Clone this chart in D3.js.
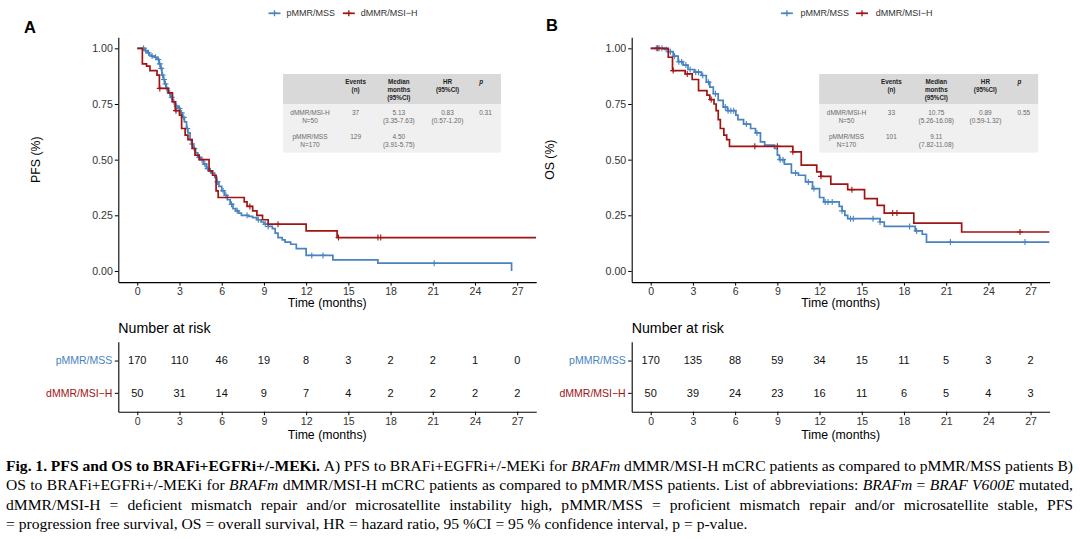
<!DOCTYPE html>
<html><head><meta charset="utf-8">
<script src="https://cdn.jsdelivr.net/npm/d3@7"></script>
<style>body{margin:0;background:#fff}svg{display:block}</style>
</head><body><svg id="c" width="1080" height="539"></svg>
<script>
// ---------------- DATA ----------------
const months = [0,3,6,9,12,15,18,21,24,27];
const yTicks = [0,0.25,0.5,0.75,1];
const groups = ["pMMR/MSS","dMMR/MSI\u2212H"];

// PFS – pMMR/MSS
const pfsP_t = [0,0.55,0.7,0.85,1.0,1.2,1.4,1.55,1.65,1.75,1.85,1.95,2.05,2.2,2.35,2.5,2.7,2.9,3.05,3.2,3.35,3.5,3.6,3.75,3.85,4.0,4.15,4.3,4.5,4.7,4.9,5.1,5.3,5.5,5.65,5.8,6.0,6.2,6.4,6.6,6.8,7.0,7.2,7.4,7.9,8.2,8.5,8.8,9.0,9.3,9.6,9.8,10.0,10.3,10.5,10.9,11.3,12.0,13.9,17.1,26.6];
const pfsP_s = [1,0.99,0.98,0.97,0.965,0.96,0.95,0.93,0.91,0.88,0.86,0.84,0.82,0.80,0.78,0.76,0.74,0.73,0.71,0.69,0.67,0.64,0.62,0.59,0.57,0.55,0.53,0.51,0.50,0.48,0.46,0.45,0.44,0.42,0.40,0.38,0.36,0.34,0.32,0.30,0.28,0.27,0.26,0.25,0.245,0.24,0.23,0.22,0.21,0.20,0.19,0.17,0.15,0.14,0.13,0.12,0.10,0.07,0.05,0.035,0.0];
const pfsP_end = 26.6;
const pfsP_cens = [0.45,0.6,0.8,1.05,1.3,1.5,1.6,1.7,1.8,1.9,2.0,2.1,2.3,2.45,2.6,2.8,3.0,3.15,3.3,3.55,3.9,4.05,4.4,4.6,4.8,5.0,5.2,5.7,6.1,6.3,6.7,7.1,7.8,8.6,9.1,9.3,12.4,13.2,21.1];
// PFS – dMMR/MSI-H
const pfsD_t = [0,0.36,0.66,0.9,1.4,1.57,2.2,2.5,2.7,3.0,3.15,3.4,3.6,3.9,4.1,4.4,5.1,5.35,5.6,5.75,7.6,7.8,8.2,8.5,8.9,9.3,12.0,14.2];
const pfsD_s = [1,0.93,0.92,0.90,0.88,0.82,0.80,0.76,0.72,0.70,0.64,0.61,0.59,0.55,0.52,0.50,0.45,0.43,0.36,0.33,0.31,0.29,0.27,0.25,0.23,0.21,0.18,0.15];
const pfsD_end = 28.35;
const pfsD_cens = [1.6,2.75,8.0,10.0,14.3,17.1,17.3];

// OS – pMMR/MSS
const osP_t = [0,1.0,1.25,1.6,1.95,2.3,2.65,3.1,3.6,3.95,4.2,4.45,4.8,5.15,5.45,6.05,6.2,6.6,7.1,7.45,7.8,8.1,8.8,9.0,9.15,9.5,10.0,10.5,11.0,11.5,12.0,12.3,13.4,13.6,13.8,14.0,16.3,16.6,18.8,19.3,19.6];
const osP_s = [1,0.995,0.985,0.965,0.94,0.925,0.905,0.893,0.878,0.848,0.826,0.796,0.766,0.736,0.72,0.70,0.68,0.66,0.64,0.62,0.58,0.565,0.55,0.52,0.50,0.48,0.44,0.43,0.40,0.37,0.33,0.31,0.29,0.27,0.25,0.235,0.22,0.20,0.18,0.165,0.13];
const osP_end = 28.35;
const osP_cens = [0.4,0.6,0.8,1.1,1.4,1.7,2.0,2.2,2.5,2.8,3.2,3.4,3.7,4.1,4.6,5.3,5.5,5.7,5.9,6.8,7.55,9.2,9.4,10.3,11.2,11.6,12.4,12.6,12.9,13.6,14.2,14.4,15.8,16.3,18.4,18.9,21.3,26.6];
// OS – dMMR/MSI-H
const osD_t = [0,1.25,1.55,2.45,2.95,3.4,4.0,4.2,4.5,4.65,4.8,4.95,5.2,5.4,5.6,10.1,10.7,11.8,12.1,12.8,14.0,15.2,16.1,16.6,18.7,22.1];
const osD_s = [1,0.96,0.90,0.885,0.86,0.81,0.79,0.77,0.75,0.72,0.68,0.64,0.61,0.59,0.56,0.535,0.475,0.445,0.425,0.39,0.365,0.325,0.295,0.26,0.215,0.175];
const osD_end = 28.35;
const osD_cens = [0.5,1.6,2.6,4.3,7.4,9.0,10.1,12.1,14.3,17.2,17.5,26.25];

// Number at risk
const pfsRiskP = [170,110,46,19,8,3,2,2,1,0];
const pfsRiskD = [50,31,14,9,7,4,2,2,2,2];
const osRiskP = [170,135,88,59,34,15,11,5,3,2];
const osRiskD = [50,39,24,23,16,11,6,5,4,3];

// Inset tables
const tableHeader = [[""],["Events","(n)"],["Median","months","(95%CI)"],["HR","(95%CI)"],["p"]];
const pfsTableRows = [
  [["dMMR/MSI-H","N=50"],["37"],["5.13","(3.35-7.63)"],["0.83","(0.57-1.20)"],["0.31"]],
  [["pMMR/MSS","N=170"],["129"],["4.50","(3.91-5.75)"],[],[]]
];
const osTableRows = [
  [["dMMR/MSI-H","N=50"],["33"],["10.75","(5.26-16.08)"],["0.89","(0.59-1.32)"],["0.55"]],
  [["pMMR/MSS","N=170"],["101"],["9.11","(7.82-11.08)"],[],[]]
];

// Caption
const captionLines = [
  [["Fig. 1.","b"],["PFS and OS to BRAFi+EGFRi+/-MEKi.","b"],["A) PFS to BRAFi+EGFRi+/-MEKi for",""],["BRAFm","i"],["dMMR/MSI-H mCRC patients as compared to pMMR/MSS patients B)",""]],
  [["OS to BRAFi+EGFRi+/-MEKi for",""],["BRAFm","i"],["dMMR/MSI-H mCRC patients as compared to pMMR/MSS patients. List of abbreviations:",""],["BRAFm","i"],["=",""],["BRAF V600E","i"],["mutated,",""]],
  [["dMMR/MSI-H = deficient mismatch repair and/or microsatellite instability high, pMMR/MSS = proficient mismatch repair and/or microsatellite stable, PFS",""]],
  [["= progression free survival, OS = overall survival, HR = hazard ratio, 95 %CI = 95 % confidence interval, p = p-value.",""]]
];

// ---------------- DRAW ----------------
const svg = d3.select("#c");
const SANS = "'Liberation Sans', Arial, Helvetica, sans-serif";
const BLUE = "#4883bf", RED = "#a01414";
const colors = [BLUE, RED];

const panels = [
  {left:118.3, right:536.2, letter:"A", letterX:24, letterY:33, ytitle:"PFS (%)", ytitleX:35.4,
   legend:[{k:268.5,t:286.5},{k:342.8,t:360.8}],
   curves:[{t:pfsP_t,s:pfsP_s,end:pfsP_end,c:pfsP_cens},{t:pfsD_t,s:pfsD_s,end:pfsD_end,c:pfsD_cens}],
   risk:[pfsRiskP,pfsRiskD], table:{x0:283,x1:501,cols:[310,355.6,398.8,447.5,479.2],rows:pfsTableRows}},
  {left:631.7, right:1049.6, letter:"B", letterX:546, letterY:31, ytitle:"OS (%)", ytitleX:549.5,
   legend:[{k:780.9,t:800.6},{k:856,t:875.8}],
   curves:[{t:osP_t,s:osP_s,end:osP_end,c:osP_cens},{t:osD_t,s:osD_s,end:osD_end,c:osD_cens}],
   risk:[osRiskP,osRiskD], table:{x0:819.2,x1:1038.2,cols:[846.5,891.4,936.3,985.4,1017.5],rows:osTableRows}}
];

function stepAt(ts, ss, t){ let v = ss[0]; for(let i=0;i<ts.length;i++){ if(ts[i]<=t) v=ss[i]; } return v; }

function styleAxis(g, fs){
  g.select(".domain").attr("stroke","#000").attr("stroke-width",1.1);
  g.selectAll(".tick line").attr("stroke","#000").attr("stroke-width",1);
  g.selectAll(".tick text").attr("fill","#333").style("font-family",SANS).style("font-size",fs+"px");
}

panels.forEach((p, pi) => {
  const x = d3.scaleLinear().domain([-1.35, 28.35]).range([p.left, p.right]);
  const y = d3.scaleLinear().domain([-0.05, 1.05]).range([282.1, 37.2]);

  svg.append("text").attr("x",p.letterX).attr("y",p.letterY).text(p.letter)
    .style("font-family",SANS).style("font-weight","bold").style("font-size","16.5px").attr("fill","#000");

  p.legend.forEach((L, gi) => {
    const lg = svg.append("g");
    lg.append("line").attr("x1",L.k).attr("x2",L.k+12).attr("y1",13.3).attr("y2",13.3)
      .attr("stroke",colors[gi]).attr("stroke-width",1.7);
    lg.append("path").attr("d",`M${L.k+6-3},13.3h6M${L.k+6},${13.3-3}v6`).attr("stroke",colors[gi]).attr("stroke-width",1.3);
    lg.append("text").attr("x",L.t).attr("y",13.3).attr("dy","0.35em").text(groups[gi])
      .style("font-family",SANS).style("font-size","9px").attr("fill","#333");
  });

  const gy = svg.append("g").attr("transform",`translate(${p.left},0)`)
    .call(d3.axisLeft(y).tickValues(yTicks).tickFormat(d3.format(".2f")).tickSize(3.5).tickSizeOuter(0).tickPadding(2));
  styleAxis(gy, 10.6);
  const gx = svg.append("g").attr("transform",`translate(0,282.1)`)
    .call(d3.axisBottom(x).tickValues(months).tickSize(3.5).tickSizeOuter(0).tickPadding(2));
  styleAxis(gx, 10.6);

  svg.append("text").attr("transform",`translate(${p.ytitleX},159.7) rotate(-90)`).attr("text-anchor","middle")
    .attr("dy","0.35em").text(p.ytitle).style("font-family",SANS).style("font-size","12.3px").attr("fill","#000");
  svg.append("text").attr("x",(p.left+p.right)/2).attr("y",306.5).attr("text-anchor","middle")
    .text("Time (months)").style("font-family",SANS).style("font-size","12.3px").attr("fill","#000");

  const T = p.table;
  svg.append("rect").attr("x",T.x0).attr("y",74).attr("width",T.x1-T.x0).attr("height",30.3).attr("fill","#d9d9d9");
  svg.append("rect").attr("x",T.x0).attr("y",104.3).attr("width",T.x1-T.x0).attr("height",48.3).attr("fill","#f0f0f0");
  const hdrY = [81.3,89.7,98];
  tableHeader.forEach((lines, ci) => {
    lines.forEach((s, li) => {
      svg.append("text").attr("x",T.cols[ci]).attr("y",hdrY[li]).attr("dy","0.35em")
        .attr("text-anchor", ci===4 ? "start" : "middle").text(s)
        .style("font-family",SANS).style("font-size","6.3px").style("font-weight","bold")
        .style("font-style", ci===4 ? "italic" : "normal").attr("fill","#222");
    });
  });
  const rowY = [[112.7,120.7],[136.7,144.7]];
  T.rows.forEach((row, ri) => {
    row.forEach((lines, ci) => {
      lines.forEach((s, li) => {
        svg.append("text").attr("x",T.cols[ci]).attr("y",rowY[ri][li]).attr("dy","0.35em")
          .attr("text-anchor", ci===4 ? "start" : "middle").text(s)
          .style("font-family",SANS).style("font-size","6.5px").attr("fill","#6a6a6a");
      });
    });
  });

  const clipId = "clip"+pi;
  svg.append("clipPath").attr("id",clipId).append("rect").attr("x",p.left).attr("y",37.2).attr("width",p.right-p.left).attr("height",245);
  const cg = svg.append("g").attr("clip-path",`url(#${clipId})`);
  const line = d3.line().x(d=>x(d[0])).y(d=>y(d[1])).curve(d3.curveStepAfter);
  p.curves.forEach((cv, gi) => {
    const pts = cv.t.map((t,i)=>[t, cv.s[i]]);
    pts.push([cv.end, cv.s[cv.s.length-1]]);
    cg.append("path").attr("d",line(pts)).attr("fill","none").attr("stroke",colors[gi]).attr("stroke-width",1.7);
    const cens = cg.append("g");
    cv.c.forEach(t => {
      const cx = x(t), cy = y(stepAt(cv.t, cv.s, t));
      cens.append("path").attr("d",`M${cx-3},${cy}h6M${cx},${cy-3}v6`).attr("stroke",colors[gi]).attr("stroke-width",1.1);
    });
  });

  svg.append("text").attr("x",p.left).attr("y",333.4).text("Number at risk")
    .style("font-family",SANS).style("font-size","14.2px").attr("fill","#000");
  const ry = d3.scalePoint().domain(groups).range([341.7, 411.7]).padding(0.584);
  const gry = svg.append("g").attr("transform",`translate(${p.left},0)`)
    .call(d3.axisLeft(ry).tickSize(3.5).tickSizeOuter(0).tickPadding(2.5));
  styleAxis(gry, 10.5);
  gry.selectAll(".tick text").attr("fill",(d,i)=>colors[i]);
  const grx = svg.append("g").attr("transform",`translate(0,411.7)`)
    .call(d3.axisBottom(x).tickValues(months).tickSize(3.5).tickSizeOuter(0).tickPadding(2));
  styleAxis(grx, 10.5);
  svg.append("text").attr("x",(p.left+p.right)/2).attr("y",438.7).attr("text-anchor","middle")
    .text("Time (months)").style("font-family",SANS).style("font-size","12.3px").attr("fill","#000");
  p.risk.forEach((vals, gi) => {
    svg.append("g").selectAll("text").data(vals).join("text")
      .attr("x",(d,i)=>x(months[i])).attr("y",ry(groups[gi])).attr("dy","0.35em").attr("text-anchor","middle")
      .text(d=>d).style("font-family",SANS).style("font-size","11px").attr("fill","#111");
  });
});

// caption (justified)
const capBase = [470.5, 490, 509.5, 528.5];
const capL = 6, capR = 1073;
captionLines.forEach((segs, li) => {
  const words = [];
  segs.forEach(([txt, st]) => txt.split(" ").forEach(w => words.push({w, st})));
  const t = svg.append("text").attr("y",capBase[li])
    .style("font-family","'Liberation Serif','Times New Roman',serif").style("font-size","15.6px").attr("fill","#000");
  const spans = words.map(o => t.append("tspan").text(o.w)
    .style("font-weight", o.st==="b" ? "bold" : "normal").style("font-style", o.st==="i" ? "italic" : "normal"));
  const widths = spans.map(s => s.node().getComputedTextLength());
  const total = d3.sum(widths);
  const last = li === captionLines.length-1;
  let gap = last ? 3.9 : (capR - capL - total) / (words.length - 1);
  let scale = 1;
  if (!last && gap < 2.5) { gap = 2.5; scale = (capR - capL - gap*(words.length-1)) / total; }
  let cx = capL;
  spans.forEach((s, i) => { s.attr("x", cx); cx += widths[i]*scale + gap; });
  if (scale < 1) spans.forEach((s,i)=> s.attr("textLength", widths[i]*scale).attr("lengthAdjust","spacingAndGlyphs"));
});
</script>
</body></html>
